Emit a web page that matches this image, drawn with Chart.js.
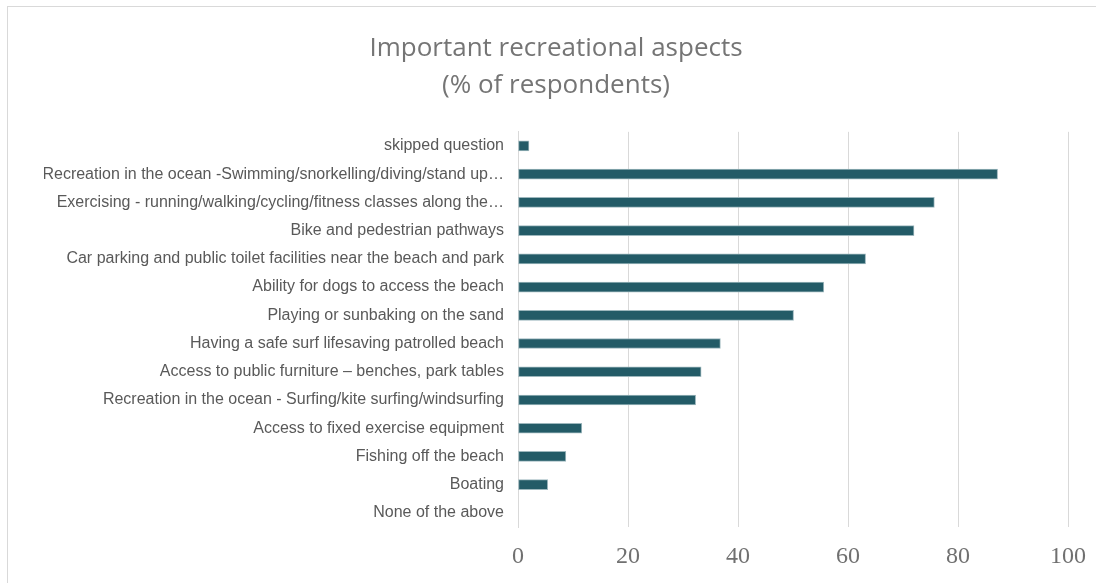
<!DOCTYPE html>
<html>
<head>
<meta charset="utf-8">
<script src="https://cdn.jsdelivr.net/npm/chart.js@4/dist/chart.umd.min.js"></script>
<style>
  html, body { margin: 0; padding: 0; background: #fff; overflow: hidden; }
  .frame { position: absolute; left: 7px; top: 6px; width: 1200px; height: 700px; border: 1px solid #d9d9d9; box-sizing: border-box; }
  .chart-box { position: absolute; left: 7px; top: 0; width: 1098px; height: 583px; }
</style>
</head>
<body>
<div class="frame"></div>
<div class="chart-box"><canvas id="aspectsChart"></canvas></div>
<script>
// Survey answers, top to bottom
const categories = [
    'skipped question',
    'Recreation in the ocean -Swimming/snorkelling/diving/stand up…',
    'Exercising - running/walking/cycling/fitness classes along the…',
    'Bike and pedestrian pathways',
    'Car parking and public toilet facilities near the beach and park',
    'Ability for dogs to access the beach',
    'Playing or sunbaking on the sand',
    'Having a safe surf lifesaving patrolled beach',
    'Access to public furniture – benches, park tables',
    'Recreation in the ocean - Surfing/kite surfing/windsurfing',
    'Access to fixed exercise equipment',
    'Fishing off the beach',
    'Boating',
    'None of the above'
];

// % of respondents
const percentValues = [2.0, 87.2, 75.7, 72.0, 63.2, 55.6, 50.1, 36.8, 33.3, 32.3, 11.6, 8.7, 5.4, 0];

// x axis range
const axisMin = 0;
const axisMax = 100;
const axisStep = 20;

const titleLines = ['Important recreational aspects', '(% of respondents)'];

// same padding both sides keeps the title centred on the whole box
const sidePad = 37;

const ctx = document.getElementById('aspectsChart').getContext('2d');
new Chart(ctx, {
    type: 'bar',
    data: {
        labels: categories,
        datasets: [{
            label: '% of respondents',
            data: percentValues,
            backgroundColor: '#235b67',
            borderColor: '#9db7bd',
            borderWidth: 1,
            borderSkipped: false,
            barThickness: 10
        }]
    },
    options: {
        indexAxis: 'y',
        responsive: true,
        maintainAspectRatio: false,
        animation: false,
        layout: { padding: { left: sidePad, right: sidePad, top: 0, bottom: 0 } },
        plugins: {
            legend: { display: false },
            tooltip: { enabled: false },
            title: {
                display: true,
                text: titleLines,
                color: '#757575',
                font: { family: '"Open Sans", "Noto Sans", sans-serif', size: 26, weight: 'normal', lineHeight: 1.42 },
                padding: { top: 30, bottom: 28 }
            }
        },
        scales: {
            x: {
                min: axisMin,
                max: axisMax,
                ticks: {
                    stepSize: axisStep,
                    color: '#707070',
                    padding: 15,
                    font: { family: '"Liberation Serif", "DejaVu Serif", serif', size: 24 }
                },
                grid: { color: '#d9d9d9', lineWidth: 1, drawTicks: false },
                border: { display: false },
                afterFit: scale => { scale.height = 56; }
            },
            y: {
                ticks: {
                    color: '#595959',
                    padding: 14,
                    autoSkip: false,
                    font: { family: '"Liberation Sans", Arial, sans-serif', size: 16 }
                },
                grid: { display: false, drawTicks: false },
                border: { display: true, color: '#d9d9d9', width: 1 },
                afterFit: scale => { scale.width = 511 - sidePad; }
            }
        }
    }
});
</script>
</body>
</html>
